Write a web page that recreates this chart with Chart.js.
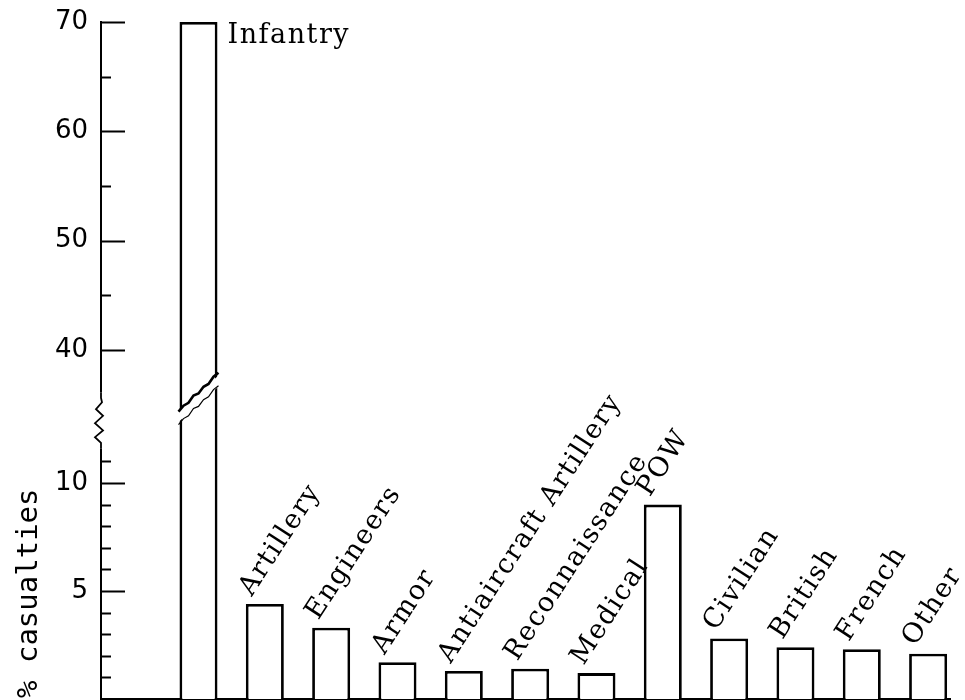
<!DOCTYPE html>
<html lang="en">
<head>
    <meta charset="UTF-8">
    <title>% casualties by branch</title>
    <script src="https://cdn.jsdelivr.net/npm/chart.js"></script>
    <style>
        body {
            margin: 0;
            padding: 0;
            background-color: #fff;
        }
        canvas {
            display: block;
        }
    </style>
</head>
<body>
    <canvas id="casualtyChart" width="965" height="700"></canvas>

    <script>
        // data
        const categories = ['Infantry', 'Artillery', 'Engineers', 'Armor', 'Antiaircraft Artillery',
            'Reconnaissance', 'Medical', 'POW', 'Civilian', 'British', 'French', 'Other'];
        const casualties = [70, 4.4, 3.3, 1.7, 1.3, 1.4, 1.2, 9.0, 2.8, 2.4, 2.3, 2.1];
        const labeledTicks = [5, 10, 40, 50, 60, 70];
        const minorTicks = [1, 2, 3, 4, 6, 7, 8, 9, 11, 45, 55, 65];
        const allTicks = labeledTicks.concat(minorTicks).sort((a, b) => a - b);

        // broken axis: 0-12 at full scale, 40-70 squeezed to about half above a gap
        const LOW_TOP = 12, HIGH_START = 40, HIGH_BASE = 16.16, HIGH_SLOPE = 0.506;
        function toAxis(v) {
            return v <= LOW_TOP ? v : HIGH_BASE + (v - HIGH_START) * HIGH_SLOPE;
        }

        const labelFont = '27px "DejaVu Serif"';
        const AXIS_X = 101;

        // little wobble for the hand drawn break lines
        const jag = [0, -1.2, 0.8, -1.6, 1.2, -0.6, 1.4, -1, 0];

        function jaggedLine(ctx, x1, y1, x2, y2) {
            ctx.beginPath();
            for (let i = 0; i < jag.length; i++) {
                const t = i / (jag.length - 1);
                const x = x1 + (x2 - x1) * t;
                const y = y1 + (y2 - y1) * t + jag[i];
                if (i === 0) ctx.moveTo(x, y); else ctx.lineTo(x, y);
            }
            ctx.stroke();
        }

        const decorPlugin = {
            id: 'decor',
            afterDraw(chart) {
                const ctx = chart.ctx;
                const yScale = chart.scales.y;
                const bars = chart.getDatasetMeta(0).data;
                ctx.save();
                ctx.strokeStyle = '#000';
                ctx.fillStyle = '#000';

                // tick marks point into the plot
                ctx.lineWidth = 2;
                yScale.ticks.forEach((t, i) => {
                    const py = Math.round(yScale.getPixelForValue(t.value)) + 0.5;
                    const len = labeledTicks.includes(allTicks[i]) ? 24 : 10;
                    ctx.beginPath();
                    ctx.moveTo(AXIS_X, py);
                    ctx.lineTo(AXIS_X + len, py);
                    ctx.stroke();
                });

                // zigzag break on the y axis
                const bTop = yScale.getPixelForValue(14.2);
                const bBot = yScale.getPixelForValue(11.6);
                ctx.fillStyle = '#fff';
                ctx.fillRect(AXIS_X - 4, bTop, 8, bBot - bTop);
                const h = bBot - bTop;
                const zig = [[0, 0], [0, 0.1], [1, 0.18], [-5, 0.3], [2, 0.42], [-6, 0.55], [2, 0.68], [-6, 0.8], [0, 0.9], [0, 1]];
                ctx.lineWidth = 1.8;
                ctx.beginPath();
                zig.forEach((p, i) => {
                    const x = AXIS_X + p[0], y = bTop + p[1] * h;
                    if (i === 0) ctx.moveTo(x, y); else ctx.lineTo(x, y);
                });
                ctx.stroke();

                // break through the infantry bar
                const inf = bars[0];
                const left = inf.x - inf.width / 2, right = inf.x + inf.width / 2;
                const upL = yScale.getPixelForValue(13.3), upR = yScale.getPixelForValue(15.1);
                const loL = yScale.getPixelForValue(12.7), loR = yScale.getPixelForValue(14.5);
                ctx.fillStyle = '#fff';
                ctx.beginPath();
                ctx.moveTo(left - 3, upL + 1);
                ctx.lineTo(right + 3, upR + 1);
                ctx.lineTo(right + 3, loR - 1);
                ctx.lineTo(left - 3, loL - 1);
                ctx.closePath();
                ctx.fill();
                ctx.lineWidth = 2.6;
                jaggedLine(ctx, left - 1, upL, right + 1, upR);
                ctx.lineWidth = 1.2;
                jaggedLine(ctx, left - 1, loL, right + 1, loR);

                // category names
                ctx.fillStyle = '#000';
                ctx.font = labelFont;
                ctx.letterSpacing = '1.5px';
                ctx.textAlign = 'left';
                ctx.textBaseline = 'alphabetic';
                bars.forEach((bar, i) => {
                    const bl = bar.x - bar.width / 2;
                    if (i === 0) {
                        ctx.fillText(categories[i], bar.x + bar.width / 2 + 10, bar.y + 21);
                        return;
                    }
                    ctx.save();
                    ctx.translate(bl + 6, bar.y - 7);
                    ctx.rotate(-57 * Math.PI / 180);
                    ctx.fillText(categories[i], 0, 0);
                    ctx.restore();
                });

                // axis title
                ctx.save();
                ctx.font = '29px "DejaVu Sans Mono"';
                ctx.letterSpacing = '0px';
                ctx.translate(37, 698);
                ctx.rotate(-Math.PI / 2);
                ctx.fillText('% casualties', 0, 0);
                ctx.restore();

                ctx.restore();
            }
        };

        const ctx = document.getElementById('casualtyChart').getContext('2d');
        const casualtyChart = new Chart(ctx, {
            type: 'bar',
            data: {
                datasets: [{
                    data: casualties.map((v, i) => ({ x: i, y: toAxis(v) })),
                    backgroundColor: '#fff',
                    borderColor: '#000',
                    borderWidth: 2.8,
                    barPercentage: 0.573,
                    categoryPercentage: 1
                }]
            },
            options: {
                responsive: false,
                animation: false,
                layout: {
                    padding: { top: 22, right: 15, bottom: 1, left: 0 }
                },
                plugins: {
                    legend: { display: false },
                    tooltip: { enabled: false }
                },
                scales: {
                    x: {
                        type: 'linear',
                        min: -1.47,
                        max: 11.33,
                        offset: false,
                        ticks: { display: false },
                        grid: { display: false, drawTicks: false },
                        border: { display: true, color: '#000', width: 2 }
                    },
                    y: {
                        min: 0,
                        max: toAxis(70),
                        afterFit(scale) {
                            scale.width = AXIS_X;
                            scale.paddingTop = 0;
                            scale.paddingBottom = 0;
                        },
                        afterBuildTicks(scale) {
                            scale.ticks = allTicks.map(v => ({ value: toAxis(v) }));
                        },
                        ticks: {
                            autoSkip: false,
                            padding: 13,
                            color: '#000',
                            font: { family: 'DejaVu Sans', size: 26 },
                            callback(value, index) {
                                const v = allTicks[index];
                                return labeledTicks.includes(v) ? String(v) : '';
                            }
                        },
                        grid: { display: false, drawTicks: false },
                        border: { display: true, color: '#000', width: 2 }
                    }
                }
            },
            plugins: [decorPlugin]
        });
    </script>
</body>
</html>
